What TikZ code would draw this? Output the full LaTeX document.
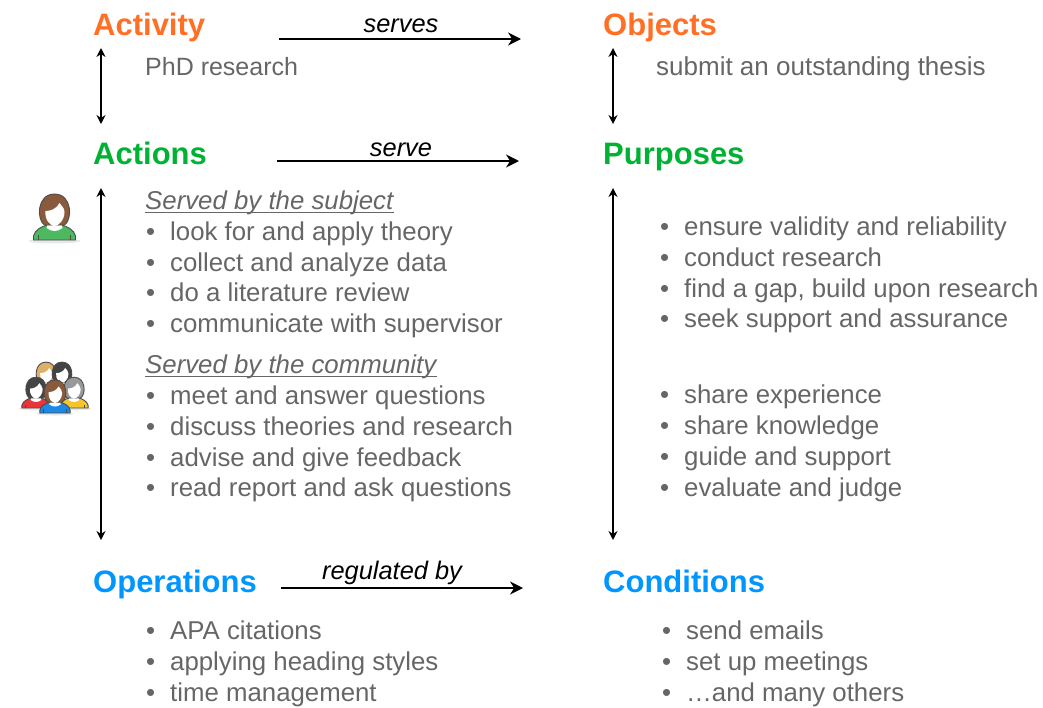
\documentclass[tikz,border=0pt]{standalone}
\usetikzlibrary{arrows.meta}
\usepackage{fontspec}
\setmainfont{Liberation Sans}
\definecolor{activityorange}{HTML}{FF7026}
\definecolor{actiongreen}{HTML}{00B233}
\definecolor{operationblue}{HTML}{0096FF}
\definecolor{bodygrey}{HTML}{666666}
\definecolor{hairbrown}{HTML}{8A5A3C}
\definecolor{hairdark}{HTML}{444444}
\definecolor{hairgrey}{HTML}{999999}
\definecolor{hairtan}{HTML}{DDB06A}
\definecolor{shirtgreen}{HTML}{4DB860}
\definecolor{shirtred}{HTML}{E8353A}
\definecolor{shirtblue}{HTML}{1E88E5}
\definecolor{shirtyellow}{HTML}{F5C32C}
\tikzset{
	headlabel/.style={anchor=base west,inner sep=0,font=\fontsize{31}{31}\selectfont\bfseries},
	bodylabel/.style={anchor=base west,inner sep=0,text=bodygrey,font=\fontsize{25.8}{26}\selectfont},
	verblabel/.style={anchor=base,inner sep=0,font=\fontsize{25.4}{26}\selectfont\itshape},
	arrowline/.style={line width=2,-{Stealth[length=13,width=13]}},
	updown/.style={line width=1.6,{Stealth[length=9,width=9]}-{Stealth[length=9,width=9]}},
	underrule/.style={line width=1,draw=bodygrey},
	pics/person/.style n args={2}{code={
		\fill[black!30,opacity=0.3] (0,1) ellipse (26 and 2.5);
		\draw[fill=#2,draw=black!70,line width=0.9] (-21,0) -- (-21,-4) .. controls (-20,-10) and (-12,-14) .. (-7,-15) -- (7,-15) .. controls (12,-14) and (20,-10) .. (21,-4) -- (21,0) -- cycle;
		\draw[black!70,line width=0.6] (-16,0) -- (-16,-5) (16,0) -- (16,-5);
		\fill[white] (-7,-16) -- (7,-16) -- (8,-12) .. controls (3,-8) and (-3,-8) .. (-8,-12) -- cycle;
		\draw[fill=#1,draw=black!70,line width=0.9] (-10,-15) .. controls (-18,-20) and (-18,-46) .. (0,-46) .. controls (18,-46) and (18,-20) .. (10,-15) -- cycle;
		\fill[white] (-9,-29) .. controls (-4,-29) and (2,-31) .. (5,-37) .. controls (7,-34) and (10,-32) .. (10,-28) .. controls (10,-20) and (4,-14) .. (0,-14) .. controls (-4,-14) and (-10,-20) .. (-9,-29) -- cycle;
	}}
}
\begin{document}
\begin{tikzpicture}[x=1pt,y=-1pt]
	\useasboundingbox (0,0) rectangle (1043,707);
	% column heads
	\node[headlabel,text=activityorange] (activity) at (93,35) {Activity};
	\node[headlabel,text=actiongreen] (actions) at (93,164) {Actions};
	\node[headlabel,text=operationblue] (operations) at (93,592) {Operations};
	\node[headlabel,text=activityorange] (objects) at (603,35) {Objects};
	\node[headlabel,text=actiongreen] (purposes) at (603,164) {Purposes};
	\node[headlabel,text=operationblue] (conditions) at (603,592) {Conditions};
	\coordinate (servesA) at (279,39);
	\coordinate (servesB) at (521,39);
	\coordinate (serveA) at (277,161);
	\coordinate (serveB) at (519,161);
	\coordinate (regA) at (281,588);
	\coordinate (regB) at (523,588);
	\draw[arrowline] (servesA) to (servesB);
	\draw[arrowline] (serveA) to (serveB);
	\draw[arrowline] (regA) to (regB);
	\node[verblabel] (verbserves) at (401,32) {serves};
	\node[verblabel] (verbserve) at (401,156) {serve};
	\node[verblabel] (verbreg) at (392,579) {regulated by};
	\coordinate (lefttopA) at (101,48);
	\coordinate (lefttopB) at (101,124);
	\coordinate (leftmidA) at (101,188);
	\coordinate (leftmidB) at (101,540);
	\coordinate (righttopA) at (613,48);
	\coordinate (righttopB) at (613,124);
	\coordinate (rightmidA) at (613,188);
	\coordinate (rightmidB) at (613,540);
	\draw[updown] (lefttopA) to (lefttopB);
	\draw[updown] (leftmidA) to (leftmidB);
	\draw[updown] (righttopA) to (righttopB);
	\draw[updown] (rightmidA) to (rightmidB);
	\node[bodylabel,font=\fontsize{25}{25}\selectfont] (phd) at (145,75) {PhD research};
	\node[bodylabel,font=\fontsize{26}{26}\selectfont] (thesis) at (656,75) {submit an outstanding thesis};
	\node[bodylabel] (subject) at (145,209) {\itshape Served by the subject};
	\node[bodylabel] (community) at (145,373) {\itshape Served by the community};
	\draw[underrule] ([yshift=-3pt]subject.base west) to ([yshift=-3pt]subject.base east);
	\draw[underrule] ([yshift=-3pt]community.base west) to ([yshift=-3pt]community.base east);
	% bulleted lists
	\foreach \x/\y/\t in {170/240/look for and apply theory,170/271/collect and analyze data,170/301.5/do a literature review,170/332/communicate with supervisor,
		170/404/meet and answer questions,170/435/discuss theories and research,170/466/advise and give feedback,170/496.5/read report and ask questions,
		170/639/APA citations,170/670/applying heading styles,170/701/time management,
		684/235/ensure validity and reliability,684/266/conduct research,684/297/{find a gap, build upon research},684/327.5/seek support and assurance,
		684/403/share experience,684/434/share knowledge,684/465/guide and support,684/496/evaluate and judge,
		686/639/send emails,686/670/set up meetings,686/701/…and many others}
		\node[bodylabel] (item\x-\y) at (\x,\y) {\llap{•\hspace{15pt}}\t};
	% subject and community
	\pic at (54.5,240) {person={hairbrown}{shirtgreen}};
	\pic[scale=0.65] at (46,392) {person={hairtan}{shirtgreen}};
	\pic[scale=0.65] at (62,392) {person={hairdark}{shirtblue}};
	\pic[scale=0.67] at (36,408) {person={hairdark}{shirtred}};
	\pic[scale=0.67] at (74,408) {person={hairgrey}{shirtyellow}};
	\pic[scale=0.72] at (55,413) {person={hairbrown}{shirtblue}};
\end{tikzpicture}
\end{document}
